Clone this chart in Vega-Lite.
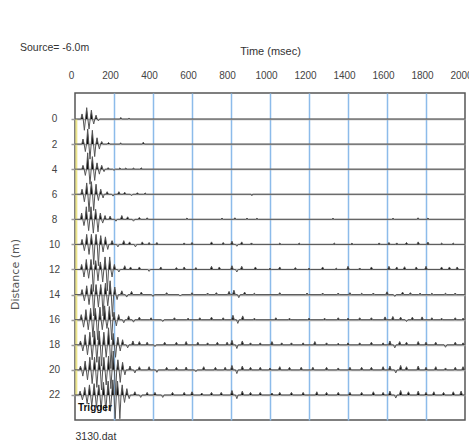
{
"$schema":"https://vega.github.io/schema/vega-lite/v6.json",
"autosize":"none",
"width":390,"height":327,
"padding":{"left":75,"top":93,"right":4,"bottom":27},
"background":"white",
"title":{"text":"Source= -6.0m","anchor":"start","frame":"group","dx":-55,"dy":12,"fontSize":10.5,"fontWeight":"normal","font":"Liberation Sans","color":"#333333"},
"datasets":{
"tr":[
{"d":0,"t":0,"y":0},{"d":0,"t":30,"y":0},{"d":0,"t":36,"y":-0.4},{"d":0,"t":42,"y":0},{"d":0,"t":48,"y":0.9},{"d":0,"t":54,"y":0},{"d":0,"t":60,"y":-0.9},{"d":0,"t":66,"y":0},{"d":0,"t":72,"y":0.8},{"d":0,"t":78,"y":0},{"d":0,"t":84,"y":-0.7},{"d":0,"t":90,"y":0},{"d":0,"t":96,"y":0.4},{"d":0,"t":102,"y":0},{"d":0,"t":108,"y":-0.3},{"d":0,"t":114,"y":0},{"d":0,"t":120,"y":0.15},{"d":0,"t":126,"y":0},{"d":0,"t":230,"y":0},{"d":0,"t":235,"y":-0.12},{"d":0,"t":240,"y":0},{"d":0,"t":273,"y":0},{"d":0,"t":277,"y":-0.08},{"d":0,"t":281,"y":0},{"d":0,"t":2000,"y":0},

{"d":2,"t":0,"y":2},{"d":2,"t":35,"y":2},{"d":2,"t":41,"y":1.6},{"d":2,"t":47,"y":2},{"d":2,"t":53,"y":2.6},{"d":2,"t":59,"y":2},{"d":2,"t":65,"y":0.8},{"d":2,"t":71,"y":2},{"d":2,"t":77,"y":3.2},{"d":2,"t":83,"y":2},{"d":2,"t":89,"y":0.9},{"d":2,"t":95,"y":2},{"d":2,"t":101,"y":3.0},{"d":2,"t":107,"y":2},{"d":2,"t":113,"y":1.5},{"d":2,"t":119,"y":2},{"d":2,"t":125,"y":2.4},{"d":2,"t":131,"y":2},{"d":2,"t":137,"y":1.8},{"d":2,"t":143,"y":2},{"d":2,"t":165,"y":2},{"d":2,"t":172,"y":1.88},{"d":2,"t":179,"y":2},{"d":2,"t":230,"y":2},{"d":2,"t":234,"y":1.9},{"d":2,"t":238,"y":2},{"d":2,"t":345,"y":2},{"d":2,"t":350,"y":1.85},{"d":2,"t":356,"y":2},{"d":2,"t":2000,"y":2},

{"d":4,"t":0,"y":4},{"d":4,"t":35,"y":4},{"d":4,"t":41,"y":3.7},{"d":4,"t":47,"y":4},{"d":4,"t":53,"y":4.5},{"d":4,"t":59,"y":4},{"d":4,"t":65,"y":2.7},{"d":4,"t":71,"y":4},{"d":4,"t":77,"y":5.2},{"d":4,"t":83,"y":4},{"d":4,"t":89,"y":3.0},{"d":4,"t":95,"y":4},{"d":4,"t":101,"y":4.9},{"d":4,"t":107,"y":4},{"d":4,"t":113,"y":3.5},{"d":4,"t":119,"y":4},{"d":4,"t":125,"y":4.4},{"d":4,"t":131,"y":4},{"d":4,"t":137,"y":3.7},{"d":4,"t":143,"y":4},{"d":4,"t":149,"y":4.2},{"d":4,"t":155,"y":4},{"d":4,"t":163,"y":4},{"d":4,"t":170,"y":3.88},{"d":4,"t":177,"y":4},{"d":4,"t":193,"y":4},{"d":4,"t":200,"y":4.1},{"d":4,"t":207,"y":4},{"d":4,"t":223,"y":4},{"d":4,"t":230,"y":3.9},{"d":4,"t":237,"y":4},{"d":4,"t":253,"y":4},{"d":4,"t":260,"y":3.92},{"d":4,"t":267,"y":4},{"d":4,"t":293,"y":4},{"d":4,"t":300,"y":3.92},{"d":4,"t":307,"y":4},{"d":4,"t":333,"y":4},{"d":4,"t":340,"y":3.9},{"d":4,"t":347,"y":4},{"d":4,"t":2000,"y":4},

{"d":6,"t":0,"y":6},{"d":6,"t":30,"y":6},{"d":6,"t":36,"y":5.6},{"d":6,"t":42,"y":6},{"d":6,"t":48,"y":6.6},{"d":6,"t":54,"y":6},{"d":6,"t":60,"y":5.1},{"d":6,"t":66,"y":6},{"d":6,"t":72,"y":7.4},{"d":6,"t":78,"y":6},{"d":6,"t":84,"y":5.0},{"d":6,"t":90,"y":6},{"d":6,"t":96,"y":7.3},{"d":6,"t":102,"y":6},{"d":6,"t":108,"y":5.2},{"d":6,"t":114,"y":6},{"d":6,"t":120,"y":6.5},{"d":6,"t":126,"y":6},{"d":6,"t":132,"y":5.6},{"d":6,"t":138,"y":6},{"d":6,"t":144,"y":6.3},{"d":6,"t":150,"y":6},{"d":6,"t":158,"y":6},{"d":6,"t":165,"y":5.8},{"d":6,"t":172,"y":6},{"d":6,"t":188,"y":6},{"d":6,"t":195,"y":6.15},{"d":6,"t":202,"y":6},{"d":6,"t":218,"y":6},{"d":6,"t":225,"y":5.8},{"d":6,"t":232,"y":6},{"d":6,"t":248,"y":6},{"d":6,"t":255,"y":5.85},{"d":6,"t":262,"y":6},{"d":6,"t":283,"y":6},{"d":6,"t":290,"y":6.12},{"d":6,"t":297,"y":6},{"d":6,"t":313,"y":6},{"d":6,"t":320,"y":5.88},{"d":6,"t":327,"y":6},{"d":6,"t":353,"y":6},{"d":6,"t":360,"y":5.9},{"d":6,"t":367,"y":6},{"d":6,"t":903,"y":6},{"d":6,"t":907,"y":6.12},{"d":6,"t":911,"y":6},{"d":6,"t":2000,"y":6},

{"d":8,"t":0,"y":8},{"d":8,"t":28,"y":8},{"d":8,"t":34,"y":7.5},{"d":8,"t":40,"y":8},{"d":8,"t":46,"y":8.5},{"d":8,"t":52,"y":8},{"d":8,"t":58,"y":7.0},{"d":8,"t":64,"y":8},{"d":8,"t":70,"y":8.9},{"d":8,"t":76,"y":8},{"d":8,"t":82,"y":7.0},{"d":8,"t":88,"y":8},{"d":8,"t":94,"y":9.1},{"d":8,"t":100,"y":8},{"d":8,"t":106,"y":7.2},{"d":8,"t":112,"y":8},{"d":8,"t":118,"y":9.0},{"d":8,"t":124,"y":8},{"d":8,"t":130,"y":7.5},{"d":8,"t":136,"y":8},{"d":8,"t":142,"y":8.3},{"d":8,"t":148,"y":8},{"d":8,"t":154,"y":7.7},{"d":8,"t":160,"y":8},{"d":8,"t":173,"y":8},{"d":8,"t":180,"y":7.75},{"d":8,"t":187,"y":8},{"d":8,"t":203,"y":8},{"d":8,"t":210,"y":8.15},{"d":8,"t":217,"y":8},{"d":8,"t":233,"y":8},{"d":8,"t":240,"y":7.7},{"d":8,"t":247,"y":8},{"d":8,"t":263,"y":8},{"d":8,"t":270,"y":7.8},{"d":8,"t":277,"y":8},{"d":8,"t":293,"y":8},{"d":8,"t":300,"y":8.15},{"d":8,"t":307,"y":8},{"d":8,"t":323,"y":8},{"d":8,"t":330,"y":7.85},{"d":8,"t":337,"y":8},{"d":8,"t":363,"y":8},{"d":8,"t":370,"y":7.88},{"d":8,"t":377,"y":8},
{"d":8,"t":567,"y":8},{"d":8,"t":574,"y":7.9},{"d":8,"t":581,"y":8},{"d":8,"t":747,"y":8},{"d":8,"t":754,"y":7.9},{"d":8,"t":761,"y":8},{"d":8,"t":813,"y":8},{"d":8,"t":820,"y":7.88},{"d":8,"t":827,"y":8},{"d":8,"t":875,"y":8},{"d":8,"t":882,"y":7.9},{"d":8,"t":889,"y":8},{"d":8,"t":926,"y":8},{"d":8,"t":933,"y":7.92},{"d":8,"t":940,"y":8},{"d":8,"t":1316,"y":8},{"d":8,"t":1323,"y":7.92},{"d":8,"t":1330,"y":8},{"d":8,"t":1624,"y":8},{"d":8,"t":1631,"y":7.92},{"d":8,"t":1638,"y":8},{"d":8,"t":1752,"y":8},{"d":8,"t":1759,"y":7.88},{"d":8,"t":1766,"y":8},{"d":8,"t":1803,"y":8},{"d":8,"t":1810,"y":7.9},{"d":8,"t":1817,"y":8},{"d":8,"t":2000,"y":8},

{"d":10,"t":0,"y":10},{"d":10,"t":30,"y":10},{"d":10,"t":36,"y":9.6},{"d":10,"t":42,"y":10},{"d":10,"t":48,"y":10.5},{"d":10,"t":54,"y":10},{"d":10,"t":60,"y":9.2},{"d":10,"t":66,"y":10},{"d":10,"t":72,"y":10.8},{"d":10,"t":78,"y":10},{"d":10,"t":84,"y":9.2},{"d":10,"t":90,"y":10},{"d":10,"t":96,"y":11.6},{"d":10,"t":102,"y":10},{"d":10,"t":108,"y":9.2},{"d":10,"t":114,"y":10},{"d":10,"t":120,"y":11.7},{"d":10,"t":126,"y":10},{"d":10,"t":132,"y":9.3},{"d":10,"t":138,"y":10},{"d":10,"t":144,"y":10.6},{"d":10,"t":150,"y":10},{"d":10,"t":156,"y":9.4},{"d":10,"t":162,"y":10},{"d":10,"t":168,"y":10.4},{"d":10,"t":174,"y":10},{"d":10,"t":183,"y":10},{"d":10,"t":190,"y":9.7},{"d":10,"t":197,"y":10},{"d":10,"t":213,"y":10},{"d":10,"t":220,"y":10.2},{"d":10,"t":227,"y":10},{"d":10,"t":243,"y":10},{"d":10,"t":250,"y":9.7},{"d":10,"t":257,"y":10},{"d":10,"t":273,"y":10},{"d":10,"t":280,"y":9.8},{"d":10,"t":287,"y":10},{"d":10,"t":303,"y":10},{"d":10,"t":310,"y":10.2},{"d":10,"t":317,"y":10},{"d":10,"t":338,"y":10},{"d":10,"t":345,"y":9.8},{"d":10,"t":352,"y":10},{"d":10,"t":373,"y":10},{"d":10,"t":380,"y":9.85},{"d":10,"t":387,"y":10},
{"d":10,"t":413,"y":10},{"d":10,"t":420,"y":9.85},{"d":10,"t":427,"y":10},{"d":10,"t":553,"y":10},{"d":10,"t":560,"y":9.88},{"d":10,"t":567,"y":10},{"d":10,"t":593,"y":10},{"d":10,"t":600,"y":9.85},{"d":10,"t":607,"y":10},{"d":10,"t":693,"y":10},{"d":10,"t":700,"y":9.8},{"d":10,"t":707,"y":10},{"d":10,"t":753,"y":10},{"d":10,"t":760,"y":9.85},{"d":10,"t":767,"y":10},{"d":10,"t":798,"y":10},{"d":10,"t":805,"y":9.75},{"d":10,"t":812,"y":10},{"d":10,"t":823,"y":10},{"d":10,"t":830,"y":10.15},{"d":10,"t":837,"y":10},{"d":10,"t":848,"y":10},{"d":10,"t":855,"y":9.8},{"d":10,"t":862,"y":10},{"d":10,"t":898,"y":10},{"d":10,"t":905,"y":9.88},{"d":10,"t":912,"y":10},{"d":10,"t":1043,"y":10},{"d":10,"t":1050,"y":9.9},{"d":10,"t":1057,"y":10},{"d":10,"t":1143,"y":10},{"d":10,"t":1150,"y":9.9},{"d":10,"t":1157,"y":10},{"d":10,"t":1323,"y":10},{"d":10,"t":1330,"y":9.9},{"d":10,"t":1337,"y":10},{"d":10,"t":1413,"y":10},{"d":10,"t":1420,"y":9.9},{"d":10,"t":1427,"y":10},{"d":10,"t":1553,"y":10},{"d":10,"t":1560,"y":9.88},{"d":10,"t":1567,"y":10},{"d":10,"t":1603,"y":10},{"d":10,"t":1610,"y":9.85},{"d":10,"t":1617,"y":10},{"d":10,"t":1643,"y":10},{"d":10,"t":1650,"y":9.88},{"d":10,"t":1657,"y":10},{"d":10,"t":1693,"y":10},{"d":10,"t":1700,"y":9.85},{"d":10,"t":1707,"y":10},{"d":10,"t":1753,"y":10},{"d":10,"t":1760,"y":9.8},{"d":10,"t":1767,"y":10},{"d":10,"t":1803,"y":10},{"d":10,"t":1810,"y":9.82},{"d":10,"t":1817,"y":10},{"d":10,"t":1873,"y":10},{"d":10,"t":1880,"y":9.9},{"d":10,"t":1887,"y":10},{"d":10,"t":1933,"y":10},{"d":10,"t":1940,"y":9.9},{"d":10,"t":1947,"y":10},{"d":10,"t":2000,"y":10},

{"d":12,"t":0,"y":12},{"d":12,"t":28,"y":12},{"d":12,"t":34,"y":11.6},{"d":12,"t":40,"y":12},{"d":12,"t":46,"y":12.6},{"d":12,"t":52,"y":12},{"d":12,"t":58,"y":11.2},{"d":12,"t":64,"y":12},{"d":12,"t":70,"y":12.7},{"d":12,"t":76,"y":12},{"d":12,"t":82,"y":11.2},{"d":12,"t":88,"y":12},{"d":12,"t":94,"y":13.75},{"d":12,"t":100,"y":12},{"d":12,"t":106,"y":11.3},{"d":12,"t":112,"y":12},{"d":12,"t":118,"y":12.9},{"d":12,"t":124,"y":12},{"d":12,"t":130,"y":11.4},{"d":12,"t":136,"y":12},{"d":12,"t":142,"y":13.0},{"d":12,"t":148,"y":12},{"d":12,"t":154,"y":11.0},{"d":12,"t":160,"y":12},{"d":12,"t":166,"y":13.7},{"d":12,"t":172,"y":12},{"d":12,"t":178,"y":11.0},{"d":12,"t":184,"y":12},{"d":12,"t":190,"y":12.6},{"d":12,"t":196,"y":12},{"d":12,"t":202,"y":11.6},{"d":12,"t":208,"y":12},{"d":12,"t":218,"y":12},{"d":12,"t":225,"y":12.2},{"d":12,"t":232,"y":12},{"d":12,"t":248,"y":12},{"d":12,"t":255,"y":11.7},{"d":12,"t":262,"y":12},{"d":12,"t":278,"y":12},{"d":12,"t":285,"y":11.8},{"d":12,"t":292,"y":12},
{"d":12,"t":323,"y":12},{"d":12,"t":330,"y":11.8},{"d":12,"t":337,"y":12},{"d":12,"t":373,"y":12},{"d":12,"t":380,"y":12.15},{"d":12,"t":387,"y":12},{"d":12,"t":433,"y":12},{"d":12,"t":440,"y":11.8},{"d":12,"t":447,"y":12},{"d":12,"t":513,"y":12},{"d":12,"t":520,"y":11.85},{"d":12,"t":527,"y":12},{"d":12,"t":553,"y":12},{"d":12,"t":560,"y":11.8},{"d":12,"t":567,"y":12},{"d":12,"t":613,"y":12},{"d":12,"t":620,"y":11.85},{"d":12,"t":627,"y":12},{"d":12,"t":693,"y":12},{"d":12,"t":700,"y":11.75},{"d":12,"t":707,"y":12},{"d":12,"t":733,"y":12},{"d":12,"t":740,"y":11.8},{"d":12,"t":747,"y":12},{"d":12,"t":798,"y":12},{"d":12,"t":805,"y":11.7},{"d":12,"t":812,"y":12},{"d":12,"t":823,"y":12},{"d":12,"t":830,"y":12.2},{"d":12,"t":837,"y":12},{"d":12,"t":848,"y":12},{"d":12,"t":855,"y":11.75},{"d":12,"t":862,"y":12},{"d":12,"t":918,"y":12},{"d":12,"t":925,"y":11.8},{"d":12,"t":932,"y":12},{"d":12,"t":993,"y":12},{"d":12,"t":1000,"y":11.9},{"d":12,"t":1007,"y":12},{"d":12,"t":1043,"y":12},{"d":12,"t":1050,"y":11.8},{"d":12,"t":1057,"y":12},{"d":12,"t":1123,"y":12},{"d":12,"t":1130,"y":11.85},{"d":12,"t":1137,"y":12},{"d":12,"t":1193,"y":12},{"d":12,"t":1200,"y":11.9},{"d":12,"t":1207,"y":12},{"d":12,"t":1263,"y":12},{"d":12,"t":1270,"y":11.8},{"d":12,"t":1277,"y":12},{"d":12,"t":1333,"y":12},{"d":12,"t":1340,"y":11.9},{"d":12,"t":1347,"y":12},{"d":12,"t":1393,"y":12},{"d":12,"t":1400,"y":11.75},{"d":12,"t":1407,"y":12},{"d":12,"t":1453,"y":12},{"d":12,"t":1460,"y":11.88},{"d":12,"t":1467,"y":12},{"d":12,"t":1513,"y":12},{"d":12,"t":1520,"y":11.8},{"d":12,"t":1527,"y":12},{"d":12,"t":1603,"y":12},{"d":12,"t":1610,"y":11.75},{"d":12,"t":1617,"y":12},{"d":12,"t":1643,"y":12},{"d":12,"t":1650,"y":11.8},{"d":12,"t":1657,"y":12},{"d":12,"t":1683,"y":12},{"d":12,"t":1690,"y":11.78},{"d":12,"t":1697,"y":12},{"d":12,"t":1743,"y":12},{"d":12,"t":1750,"y":11.8},{"d":12,"t":1757,"y":12},{"d":12,"t":1793,"y":12},{"d":12,"t":1800,"y":11.75},{"d":12,"t":1807,"y":12},{"d":12,"t":1873,"y":12},{"d":12,"t":1880,"y":11.8},{"d":12,"t":1887,"y":12},{"d":12,"t":1913,"y":12},{"d":12,"t":1920,"y":11.8},{"d":12,"t":1927,"y":12},{"d":12,"t":1953,"y":12},{"d":12,"t":1960,"y":11.8},{"d":12,"t":1967,"y":12},{"d":12,"t":2000,"y":12},

{"d":14,"t":0,"y":14},{"d":14,"t":30,"y":14},{"d":14,"t":36,"y":13.6},{"d":14,"t":42,"y":14},{"d":14,"t":48,"y":14.5},{"d":14,"t":54,"y":14},{"d":14,"t":60,"y":13.3},{"d":14,"t":66,"y":14},{"d":14,"t":72,"y":14.8},{"d":14,"t":78,"y":14},{"d":14,"t":84,"y":13.2},{"d":14,"t":90,"y":14},{"d":14,"t":96,"y":15.7},{"d":14,"t":102,"y":14},{"d":14,"t":108,"y":13.2},{"d":14,"t":114,"y":14},{"d":14,"t":120,"y":15.0},{"d":14,"t":126,"y":14},{"d":14,"t":132,"y":13.2},{"d":14,"t":138,"y":14},{"d":14,"t":144,"y":15.7},{"d":14,"t":150,"y":14},{"d":14,"t":156,"y":13.1},{"d":14,"t":162,"y":14},{"d":14,"t":168,"y":14.9},{"d":14,"t":174,"y":14},{"d":14,"t":180,"y":12.9},{"d":14,"t":186,"y":14},{"d":14,"t":192,"y":15.75},{"d":14,"t":198,"y":14},{"d":14,"t":204,"y":13.4},{"d":14,"t":210,"y":14},{"d":14,"t":216,"y":14.4},{"d":14,"t":222,"y":14},{"d":14,"t":233,"y":14},{"d":14,"t":240,"y":13.7},{"d":14,"t":247,"y":14},{"d":14,"t":258,"y":14},{"d":14,"t":265,"y":14.2},{"d":14,"t":272,"y":14},{"d":14,"t":283,"y":14},{"d":14,"t":290,"y":13.75},{"d":14,"t":297,"y":14},
{"d":14,"t":333,"y":14},{"d":14,"t":340,"y":13.8},{"d":14,"t":347,"y":14},{"d":14,"t":393,"y":14},{"d":14,"t":400,"y":14.15},{"d":14,"t":407,"y":14},{"d":14,"t":463,"y":14},{"d":14,"t":470,"y":13.85},{"d":14,"t":477,"y":14},{"d":14,"t":533,"y":14},{"d":14,"t":540,"y":14.12},{"d":14,"t":547,"y":14},{"d":14,"t":593,"y":14},{"d":14,"t":600,"y":13.85},{"d":14,"t":607,"y":14},{"d":14,"t":673,"y":14},{"d":14,"t":680,"y":13.88},{"d":14,"t":687,"y":14},{"d":14,"t":718,"y":14},{"d":14,"t":725,"y":13.85},{"d":14,"t":732,"y":14},{"d":14,"t":783,"y":14},{"d":14,"t":790,"y":13.75},{"d":14,"t":797,"y":14},{"d":14,"t":808,"y":14},{"d":14,"t":815,"y":13.65},{"d":14,"t":822,"y":14},{"d":14,"t":833,"y":14},{"d":14,"t":840,"y":14.25},{"d":14,"t":847,"y":14},{"d":14,"t":863,"y":14},{"d":14,"t":870,"y":13.8},{"d":14,"t":877,"y":14},{"d":14,"t":913,"y":14},{"d":14,"t":920,"y":13.9},{"d":14,"t":927,"y":14},{"d":14,"t":1043,"y":14},{"d":14,"t":1050,"y":13.85},{"d":14,"t":1057,"y":14},{"d":14,"t":1183,"y":14},{"d":14,"t":1190,"y":13.88},{"d":14,"t":1197,"y":14},{"d":14,"t":1263,"y":14},{"d":14,"t":1270,"y":13.88},{"d":14,"t":1277,"y":14},{"d":14,"t":1343,"y":14},{"d":14,"t":1350,"y":13.88},{"d":14,"t":1357,"y":14},{"d":14,"t":1403,"y":14},{"d":14,"t":1410,"y":13.85},{"d":14,"t":1417,"y":14},{"d":14,"t":1463,"y":14},{"d":14,"t":1470,"y":13.9},{"d":14,"t":1477,"y":14},{"d":14,"t":1523,"y":14},{"d":14,"t":1530,"y":13.88},{"d":14,"t":1537,"y":14},{"d":14,"t":1593,"y":14},{"d":14,"t":1600,"y":13.78},{"d":14,"t":1607,"y":14},{"d":14,"t":1633,"y":14},{"d":14,"t":1640,"y":14.15},{"d":14,"t":1647,"y":14},{"d":14,"t":1673,"y":14},{"d":14,"t":1680,"y":13.8},{"d":14,"t":1687,"y":14},{"d":14,"t":1713,"y":14},{"d":14,"t":1720,"y":13.85},{"d":14,"t":1727,"y":14},{"d":14,"t":1763,"y":14},{"d":14,"t":1770,"y":13.88},{"d":14,"t":1777,"y":14},{"d":14,"t":1823,"y":14},{"d":14,"t":1830,"y":13.9},{"d":14,"t":1837,"y":14},{"d":14,"t":1893,"y":14},{"d":14,"t":1900,"y":13.9},{"d":14,"t":1907,"y":14},{"d":14,"t":1943,"y":14},{"d":14,"t":1950,"y":13.88},{"d":14,"t":1957,"y":14},{"d":14,"t":2000,"y":14},

{"d":16,"t":0,"y":16},{"d":16,"t":26,"y":16},{"d":16,"t":32,"y":15.6},{"d":16,"t":38,"y":16},{"d":16,"t":44,"y":16.6},{"d":16,"t":50,"y":16},{"d":16,"t":56,"y":15.2},{"d":16,"t":62,"y":16},{"d":16,"t":68,"y":16.8},{"d":16,"t":74,"y":16},{"d":16,"t":80,"y":15.1},{"d":16,"t":86,"y":16},{"d":16,"t":92,"y":17.4},{"d":16,"t":98,"y":16},{"d":16,"t":104,"y":15.1},{"d":16,"t":110,"y":16},{"d":16,"t":116,"y":17.6},{"d":16,"t":122,"y":16},{"d":16,"t":128,"y":15.0},{"d":16,"t":134,"y":16},{"d":16,"t":140,"y":16.8},{"d":16,"t":146,"y":16},{"d":16,"t":152,"y":14.9},{"d":16,"t":158,"y":16},{"d":16,"t":164,"y":16.7},{"d":16,"t":170,"y":16},{"d":16,"t":176,"y":14.95},{"d":16,"t":182,"y":16},{"d":16,"t":188,"y":17.6},{"d":16,"t":194,"y":16},{"d":16,"t":200,"y":15.4},{"d":16,"t":206,"y":16},{"d":16,"t":212,"y":16.5},{"d":16,"t":218,"y":16},{"d":16,"t":224,"y":15.6},{"d":16,"t":230,"y":16},{"d":16,"t":243,"y":16},{"d":16,"t":250,"y":16.25},{"d":16,"t":257,"y":16},{"d":16,"t":268,"y":16},{"d":16,"t":275,"y":15.7},{"d":16,"t":282,"y":16},{"d":16,"t":293,"y":16},{"d":16,"t":300,"y":16.2},{"d":16,"t":307,"y":16},
{"d":16,"t":323,"y":16},{"d":16,"t":330,"y":15.8},{"d":16,"t":337,"y":16},{"d":16,"t":383,"y":16},{"d":16,"t":390,"y":15.85},{"d":16,"t":397,"y":16},{"d":16,"t":443,"y":16},{"d":16,"t":450,"y":16.15},{"d":16,"t":457,"y":16},{"d":16,"t":503,"y":16},{"d":16,"t":510,"y":15.85},{"d":16,"t":517,"y":16},{"d":16,"t":573,"y":16},{"d":16,"t":580,"y":15.88},{"d":16,"t":587,"y":16},{"d":16,"t":633,"y":16},{"d":16,"t":640,"y":15.85},{"d":16,"t":647,"y":16},{"d":16,"t":693,"y":16},{"d":16,"t":700,"y":15.8},{"d":16,"t":707,"y":16},{"d":16,"t":753,"y":16},{"d":16,"t":760,"y":15.85},{"d":16,"t":767,"y":16},{"d":16,"t":803,"y":16},{"d":16,"t":810,"y":15.65},{"d":16,"t":817,"y":16},{"d":16,"t":828,"y":16},{"d":16,"t":835,"y":16.3},{"d":16,"t":842,"y":16},{"d":16,"t":853,"y":16},{"d":16,"t":860,"y":15.7},{"d":16,"t":867,"y":16},{"d":16,"t":913,"y":16},{"d":16,"t":920,"y":15.88},{"d":16,"t":927,"y":16},{"d":16,"t":1023,"y":16},{"d":16,"t":1030,"y":15.85},{"d":16,"t":1037,"y":16},{"d":16,"t":1093,"y":16},{"d":16,"t":1100,"y":15.88},{"d":16,"t":1107,"y":16},{"d":16,"t":1193,"y":16},{"d":16,"t":1200,"y":15.88},{"d":16,"t":1207,"y":16},{"d":16,"t":1273,"y":16},{"d":16,"t":1280,"y":15.88},{"d":16,"t":1287,"y":16},{"d":16,"t":1343,"y":16},{"d":16,"t":1350,"y":15.85},{"d":16,"t":1357,"y":16},{"d":16,"t":1393,"y":16},{"d":16,"t":1400,"y":15.88},{"d":16,"t":1407,"y":16},{"d":16,"t":1453,"y":16},{"d":16,"t":1460,"y":15.85},{"d":16,"t":1467,"y":16},{"d":16,"t":1513,"y":16},{"d":16,"t":1520,"y":15.85},{"d":16,"t":1527,"y":16},{"d":16,"t":1583,"y":16},{"d":16,"t":1590,"y":15.78},{"d":16,"t":1597,"y":16},{"d":16,"t":1623,"y":16},{"d":16,"t":1630,"y":15.75},{"d":16,"t":1637,"y":16},{"d":16,"t":1663,"y":16},{"d":16,"t":1670,"y":15.8},{"d":16,"t":1677,"y":16},{"d":16,"t":1693,"y":16},{"d":16,"t":1700,"y":16.15},{"d":16,"t":1707,"y":16},{"d":16,"t":1723,"y":16},{"d":16,"t":1730,"y":15.8},{"d":16,"t":1737,"y":16},{"d":16,"t":1773,"y":16},{"d":16,"t":1780,"y":15.78},{"d":16,"t":1787,"y":16},{"d":16,"t":1823,"y":16},{"d":16,"t":1830,"y":15.85},{"d":16,"t":1837,"y":16},{"d":16,"t":1873,"y":16},{"d":16,"t":1880,"y":15.88},{"d":16,"t":1887,"y":16},{"d":16,"t":1943,"y":16},{"d":16,"t":1950,"y":15.85},{"d":16,"t":1957,"y":16},{"d":16,"t":1983,"y":16},{"d":16,"t":1990,"y":15.88},{"d":16,"t":1997,"y":16},{"d":16,"t":2000,"y":16},

{"d":18,"t":0,"y":18},{"d":18,"t":22,"y":18},{"d":18,"t":28,"y":17.7},{"d":18,"t":34,"y":18},{"d":18,"t":40,"y":18.5},{"d":18,"t":46,"y":18},{"d":18,"t":52,"y":17.2},{"d":18,"t":58,"y":18},{"d":18,"t":64,"y":18.8},{"d":18,"t":70,"y":18},{"d":18,"t":76,"y":17.0},{"d":18,"t":82,"y":18},{"d":18,"t":88,"y":19.2},{"d":18,"t":94,"y":18},{"d":18,"t":100,"y":16.9},{"d":18,"t":106,"y":18},{"d":18,"t":112,"y":19.4},{"d":18,"t":118,"y":18},{"d":18,"t":124,"y":16.9},{"d":18,"t":130,"y":18},{"d":18,"t":136,"y":19.7},{"d":18,"t":142,"y":18},{"d":18,"t":148,"y":17.0},{"d":18,"t":154,"y":18},{"d":18,"t":160,"y":19.0},{"d":18,"t":166,"y":18},{"d":18,"t":172,"y":16.65},{"d":18,"t":178,"y":18},{"d":18,"t":184,"y":19.9},{"d":18,"t":190,"y":18},{"d":18,"t":196,"y":17.1},{"d":18,"t":202,"y":18},{"d":18,"t":208,"y":19.0},{"d":18,"t":214,"y":18},{"d":18,"t":220,"y":17.4},{"d":18,"t":226,"y":18},{"d":18,"t":232,"y":18.5},{"d":18,"t":238,"y":18},{"d":18,"t":244,"y":17.6},{"d":18,"t":250,"y":18},{"d":18,"t":263,"y":18},{"d":18,"t":270,"y":18.25},{"d":18,"t":277,"y":18},{"d":18,"t":290,"y":18},{"d":18,"t":297,"y":17.7},{"d":18,"t":304,"y":18},
{"d":18,"t":323,"y":18},{"d":18,"t":330,"y":17.75},{"d":18,"t":337,"y":18},{"d":18,"t":363,"y":18},{"d":18,"t":370,"y":17.8},{"d":18,"t":377,"y":18},{"d":18,"t":403,"y":18},{"d":18,"t":410,"y":18.15},{"d":18,"t":417,"y":18},{"d":18,"t":453,"y":18},{"d":18,"t":460,"y":17.8},{"d":18,"t":467,"y":18},{"d":18,"t":513,"y":18},{"d":18,"t":520,"y":17.8},{"d":18,"t":527,"y":18},{"d":18,"t":563,"y":18},{"d":18,"t":570,"y":17.75},{"d":18,"t":577,"y":18},{"d":18,"t":623,"y":18},{"d":18,"t":630,"y":17.8},{"d":18,"t":637,"y":18},{"d":18,"t":673,"y":18},{"d":18,"t":680,"y":17.85},{"d":18,"t":687,"y":18},{"d":18,"t":723,"y":18},{"d":18,"t":730,"y":17.8},{"d":18,"t":737,"y":18},{"d":18,"t":773,"y":18},{"d":18,"t":780,"y":17.8},{"d":18,"t":787,"y":18},{"d":18,"t":798,"y":18},{"d":18,"t":805,"y":17.65},{"d":18,"t":812,"y":18},{"d":18,"t":823,"y":18},{"d":18,"t":830,"y":18.3},{"d":18,"t":837,"y":18},{"d":18,"t":851,"y":18},{"d":18,"t":858,"y":17.7},{"d":18,"t":865,"y":18},{"d":18,"t":893,"y":18},{"d":18,"t":900,"y":17.85},{"d":18,"t":907,"y":18},{"d":18,"t":943,"y":18},{"d":18,"t":950,"y":17.85},{"d":18,"t":957,"y":18},{"d":18,"t":1003,"y":18},{"d":18,"t":1010,"y":17.75},{"d":18,"t":1017,"y":18},{"d":18,"t":1053,"y":18},{"d":18,"t":1060,"y":17.85},{"d":18,"t":1067,"y":18},{"d":18,"t":1103,"y":18},{"d":18,"t":1110,"y":17.85},{"d":18,"t":1117,"y":18},{"d":18,"t":1163,"y":18},{"d":18,"t":1170,"y":17.85},{"d":18,"t":1177,"y":18},{"d":18,"t":1223,"y":18},{"d":18,"t":1230,"y":17.75},{"d":18,"t":1237,"y":18},{"d":18,"t":1283,"y":18},{"d":18,"t":1290,"y":17.85},{"d":18,"t":1297,"y":18},{"d":18,"t":1343,"y":18},{"d":18,"t":1350,"y":17.88},{"d":18,"t":1357,"y":18},{"d":18,"t":1393,"y":18},{"d":18,"t":1400,"y":17.85},{"d":18,"t":1407,"y":18},{"d":18,"t":1453,"y":18},{"d":18,"t":1460,"y":17.85},{"d":18,"t":1467,"y":18},{"d":18,"t":1513,"y":18},{"d":18,"t":1520,"y":17.8},{"d":18,"t":1527,"y":18},{"d":18,"t":1573,"y":18},{"d":18,"t":1580,"y":17.85},{"d":18,"t":1587,"y":18},{"d":18,"t":1608,"y":18},{"d":18,"t":1615,"y":17.7},{"d":18,"t":1622,"y":18},{"d":18,"t":1633,"y":18},{"d":18,"t":1640,"y":18.25},{"d":18,"t":1647,"y":18},{"d":18,"t":1658,"y":18},{"d":18,"t":1665,"y":17.75},{"d":18,"t":1672,"y":18},{"d":18,"t":1693,"y":18},{"d":18,"t":1700,"y":17.8},{"d":18,"t":1707,"y":18},{"d":18,"t":1753,"y":18},{"d":18,"t":1760,"y":17.75},{"d":18,"t":1767,"y":18},{"d":18,"t":1793,"y":18},{"d":18,"t":1800,"y":17.8},{"d":18,"t":1807,"y":18},{"d":18,"t":1843,"y":18},{"d":18,"t":1850,"y":17.8},{"d":18,"t":1857,"y":18},{"d":18,"t":1893,"y":18},{"d":18,"t":1900,"y":18.2},{"d":18,"t":1907,"y":18},{"d":18,"t":1943,"y":18},{"d":18,"t":1950,"y":17.8},{"d":18,"t":1957,"y":18},{"d":18,"t":1983,"y":18},{"d":18,"t":1990,"y":17.85},{"d":18,"t":1997,"y":18},{"d":18,"t":2000,"y":18},

{"d":20,"t":0,"y":20},{"d":20,"t":22,"y":20},{"d":20,"t":28,"y":19.7},{"d":20,"t":34,"y":20},{"d":20,"t":40,"y":20.5},{"d":20,"t":46,"y":20},{"d":20,"t":52,"y":19.3},{"d":20,"t":58,"y":20},{"d":20,"t":64,"y":20.8},{"d":20,"t":70,"y":20},{"d":20,"t":76,"y":19.0},{"d":20,"t":82,"y":20},{"d":20,"t":88,"y":21.1},{"d":20,"t":94,"y":20},{"d":20,"t":100,"y":19.0},{"d":20,"t":106,"y":20},{"d":20,"t":112,"y":21.4},{"d":20,"t":118,"y":20},{"d":20,"t":124,"y":18.95},{"d":20,"t":130,"y":20},{"d":20,"t":136,"y":21.6},{"d":20,"t":142,"y":20},{"d":20,"t":148,"y":19.0},{"d":20,"t":154,"y":20},{"d":20,"t":160,"y":21.2},{"d":20,"t":166,"y":20},{"d":20,"t":172,"y":18.9},{"d":20,"t":178,"y":20},{"d":20,"t":184,"y":21.5},{"d":20,"t":190,"y":20},{"d":20,"t":196,"y":18.5},{"d":20,"t":202,"y":20},{"d":20,"t":208,"y":22.0},{"d":20,"t":214,"y":20},{"d":20,"t":220,"y":19.2},{"d":20,"t":226,"y":20},{"d":20,"t":232,"y":21.0},{"d":20,"t":238,"y":20},{"d":20,"t":244,"y":19.4},{"d":20,"t":250,"y":20},{"d":20,"t":256,"y":20.4},{"d":20,"t":262,"y":20},{"d":20,"t":275,"y":20},{"d":20,"t":282,"y":19.7},{"d":20,"t":289,"y":20},{"d":20,"t":300,"y":20},{"d":20,"t":307,"y":20.25},{"d":20,"t":314,"y":20},
{"d":20,"t":323,"y":20},{"d":20,"t":330,"y":19.75},{"d":20,"t":337,"y":20},{"d":20,"t":373,"y":20},{"d":20,"t":380,"y":19.75},{"d":20,"t":387,"y":20},{"d":20,"t":413,"y":20},{"d":20,"t":420,"y":20.2},{"d":20,"t":427,"y":20},{"d":20,"t":463,"y":20},{"d":20,"t":470,"y":19.8},{"d":20,"t":477,"y":20},{"d":20,"t":513,"y":20},{"d":20,"t":520,"y":19.8},{"d":20,"t":527,"y":20},{"d":20,"t":563,"y":20},{"d":20,"t":570,"y":19.78},{"d":20,"t":577,"y":20},{"d":20,"t":613,"y":20},{"d":20,"t":620,"y":20.15},{"d":20,"t":627,"y":20},{"d":20,"t":653,"y":20},{"d":20,"t":660,"y":19.75},{"d":20,"t":667,"y":20},{"d":20,"t":713,"y":20},{"d":20,"t":720,"y":19.8},{"d":20,"t":727,"y":20},{"d":20,"t":763,"y":20},{"d":20,"t":770,"y":19.8},{"d":20,"t":777,"y":20},{"d":20,"t":798,"y":20},{"d":20,"t":805,"y":19.65},{"d":20,"t":812,"y":20},{"d":20,"t":823,"y":20},{"d":20,"t":830,"y":20.3},{"d":20,"t":837,"y":20},{"d":20,"t":851,"y":20},{"d":20,"t":858,"y":19.7},{"d":20,"t":865,"y":20},{"d":20,"t":893,"y":20},{"d":20,"t":900,"y":19.8},{"d":20,"t":907,"y":20},{"d":20,"t":943,"y":20},{"d":20,"t":950,"y":19.8},{"d":20,"t":957,"y":20},{"d":20,"t":993,"y":20},{"d":20,"t":1000,"y":19.85},{"d":20,"t":1007,"y":20},{"d":20,"t":1043,"y":20},{"d":20,"t":1050,"y":19.75},{"d":20,"t":1057,"y":20},{"d":20,"t":1093,"y":20},{"d":20,"t":1100,"y":19.8},{"d":20,"t":1107,"y":20},{"d":20,"t":1153,"y":20},{"d":20,"t":1160,"y":19.8},{"d":20,"t":1167,"y":20},{"d":20,"t":1213,"y":20},{"d":20,"t":1220,"y":19.8},{"d":20,"t":1227,"y":20},{"d":20,"t":1283,"y":20},{"d":20,"t":1290,"y":19.8},{"d":20,"t":1297,"y":20},{"d":20,"t":1343,"y":20},{"d":20,"t":1350,"y":19.85},{"d":20,"t":1357,"y":20},{"d":20,"t":1403,"y":20},{"d":20,"t":1410,"y":19.8},{"d":20,"t":1417,"y":20},{"d":20,"t":1463,"y":20},{"d":20,"t":1470,"y":19.8},{"d":20,"t":1477,"y":20},{"d":20,"t":1513,"y":20},{"d":20,"t":1520,"y":19.8},{"d":20,"t":1527,"y":20},{"d":20,"t":1573,"y":20},{"d":20,"t":1580,"y":19.75},{"d":20,"t":1587,"y":20},{"d":20,"t":1608,"y":20},{"d":20,"t":1615,"y":19.7},{"d":20,"t":1622,"y":20},{"d":20,"t":1638,"y":20},{"d":20,"t":1645,"y":20.25},{"d":20,"t":1652,"y":20},{"d":20,"t":1663,"y":20},{"d":20,"t":1670,"y":19.65},{"d":20,"t":1677,"y":20},{"d":20,"t":1693,"y":20},{"d":20,"t":1700,"y":19.75},{"d":20,"t":1707,"y":20},{"d":20,"t":1753,"y":20},{"d":20,"t":1760,"y":19.7},{"d":20,"t":1767,"y":20},{"d":20,"t":1793,"y":20},{"d":20,"t":1800,"y":19.8},{"d":20,"t":1807,"y":20},{"d":20,"t":1843,"y":20},{"d":20,"t":1850,"y":19.75},{"d":20,"t":1857,"y":20},{"d":20,"t":1893,"y":20},{"d":20,"t":1900,"y":19.85},{"d":20,"t":1907,"y":20},{"d":20,"t":1943,"y":20},{"d":20,"t":1950,"y":19.8},{"d":20,"t":1957,"y":20},{"d":20,"t":1983,"y":20},{"d":20,"t":1990,"y":19.75},{"d":20,"t":1997,"y":20},{"d":20,"t":2000,"y":20},

{"d":22,"t":0,"y":22},{"d":22,"t":20,"y":22},{"d":22,"t":26,"y":21.7},{"d":22,"t":32,"y":22},{"d":22,"t":38,"y":22.4},{"d":22,"t":44,"y":22},{"d":22,"t":50,"y":21.4},{"d":22,"t":56,"y":22},{"d":22,"t":62,"y":22.7},{"d":22,"t":68,"y":22},{"d":22,"t":74,"y":21.2},{"d":22,"t":80,"y":22},{"d":22,"t":86,"y":22.9},{"d":22,"t":92,"y":22},{"d":22,"t":98,"y":21.1},{"d":22,"t":104,"y":22},{"d":22,"t":110,"y":23.0},{"d":22,"t":116,"y":22},{"d":22,"t":122,"y":21.2},{"d":22,"t":128,"y":22},{"d":22,"t":134,"y":23.2},{"d":22,"t":140,"y":22},{"d":22,"t":146,"y":21.0},{"d":22,"t":152,"y":22},{"d":22,"t":158,"y":23.3},{"d":22,"t":164,"y":22},{"d":22,"t":170,"y":20.9},{"d":22,"t":176,"y":22},{"d":22,"t":182,"y":23.3},{"d":22,"t":188,"y":22},{"d":22,"t":194,"y":20.8},{"d":22,"t":200,"y":22},{"d":22,"t":206,"y":23.9},{"d":22,"t":212,"y":22},{"d":22,"t":218,"y":20.9},{"d":22,"t":224,"y":22},{"d":22,"t":230,"y":23.9},{"d":22,"t":236,"y":22},{"d":22,"t":242,"y":21.2},{"d":22,"t":248,"y":22},{"d":22,"t":254,"y":22.6},{"d":22,"t":260,"y":22},{"d":22,"t":266,"y":21.5},{"d":22,"t":272,"y":22},{"d":22,"t":278,"y":22.3},{"d":22,"t":284,"y":22},{"d":22,"t":300,"y":22},{"d":22,"t":307,"y":21.75},{"d":22,"t":314,"y":22},{"d":22,"t":330,"y":22},{"d":22,"t":337,"y":22.2},{"d":22,"t":344,"y":22},
{"d":22,"t":363,"y":22},{"d":22,"t":370,"y":21.8},{"d":22,"t":377,"y":22},{"d":22,"t":403,"y":22},{"d":22,"t":410,"y":21.8},{"d":22,"t":417,"y":22},{"d":22,"t":443,"y":22},{"d":22,"t":450,"y":22.2},{"d":22,"t":457,"y":22},{"d":22,"t":493,"y":22},{"d":22,"t":500,"y":21.8},{"d":22,"t":507,"y":22},{"d":22,"t":553,"y":22},{"d":22,"t":560,"y":21.8},{"d":22,"t":567,"y":22},{"d":22,"t":593,"y":22},{"d":22,"t":600,"y":21.75},{"d":22,"t":607,"y":22},{"d":22,"t":643,"y":22},{"d":22,"t":650,"y":21.85},{"d":22,"t":657,"y":22},{"d":22,"t":693,"y":22},{"d":22,"t":700,"y":21.8},{"d":22,"t":707,"y":22},{"d":22,"t":743,"y":22},{"d":22,"t":750,"y":21.8},{"d":22,"t":757,"y":22},{"d":22,"t":798,"y":22},{"d":22,"t":805,"y":21.65},{"d":22,"t":812,"y":22},{"d":22,"t":823,"y":22},{"d":22,"t":830,"y":22.3},{"d":22,"t":837,"y":22},{"d":22,"t":851,"y":22},{"d":22,"t":858,"y":21.7},{"d":22,"t":865,"y":22},{"d":22,"t":893,"y":22},{"d":22,"t":900,"y":21.8},{"d":22,"t":907,"y":22},{"d":22,"t":943,"y":22},{"d":22,"t":950,"y":21.8},{"d":22,"t":957,"y":22},{"d":22,"t":1003,"y":22},{"d":22,"t":1010,"y":21.85},{"d":22,"t":1017,"y":22},{"d":22,"t":1043,"y":22},{"d":22,"t":1050,"y":21.8},{"d":22,"t":1057,"y":22},{"d":22,"t":1103,"y":22},{"d":22,"t":1110,"y":21.8},{"d":22,"t":1117,"y":22},{"d":22,"t":1163,"y":22},{"d":22,"t":1170,"y":21.8},{"d":22,"t":1177,"y":22},{"d":22,"t":1233,"y":22},{"d":22,"t":1240,"y":21.75},{"d":22,"t":1247,"y":22},{"d":22,"t":1283,"y":22},{"d":22,"t":1290,"y":21.8},{"d":22,"t":1297,"y":22},{"d":22,"t":1343,"y":22},{"d":22,"t":1350,"y":21.8},{"d":22,"t":1357,"y":22},{"d":22,"t":1403,"y":22},{"d":22,"t":1410,"y":21.8},{"d":22,"t":1417,"y":22},{"d":22,"t":1463,"y":22},{"d":22,"t":1470,"y":21.8},{"d":22,"t":1477,"y":22},{"d":22,"t":1523,"y":22},{"d":22,"t":1530,"y":21.75},{"d":22,"t":1537,"y":22},{"d":22,"t":1573,"y":22},{"d":22,"t":1580,"y":21.8},{"d":22,"t":1587,"y":22},{"d":22,"t":1608,"y":22},{"d":22,"t":1615,"y":21.7},{"d":22,"t":1622,"y":22},{"d":22,"t":1638,"y":22},{"d":22,"t":1645,"y":22.25},{"d":22,"t":1652,"y":22},{"d":22,"t":1663,"y":22},{"d":22,"t":1670,"y":21.65},{"d":22,"t":1677,"y":22},{"d":22,"t":1703,"y":22},{"d":22,"t":1710,"y":21.75},{"d":22,"t":1717,"y":22},{"d":22,"t":1753,"y":22},{"d":22,"t":1760,"y":21.7},{"d":22,"t":1767,"y":22},{"d":22,"t":1793,"y":22},{"d":22,"t":1800,"y":21.8},{"d":22,"t":1807,"y":22},{"d":22,"t":1833,"y":22},{"d":22,"t":1840,"y":21.75},{"d":22,"t":1847,"y":22},{"d":22,"t":1883,"y":22},{"d":22,"t":1890,"y":21.8},{"d":22,"t":1897,"y":22},{"d":22,"t":1933,"y":22},{"d":22,"t":1940,"y":21.75},{"d":22,"t":1947,"y":22},{"d":22,"t":1973,"y":22},{"d":22,"t":1980,"y":21.7},{"d":22,"t":1987,"y":22},{"d":22,"t":2000,"y":22}
]
},
"resolve":{"axis":{"x":"independent"}},
"layer":[
{
"data":{"values":[{"t":7,"d":0,"d2":22}]},
"mark":{"type":"rule","color":"#ece58c","strokeWidth":2},
"encoding":{
"x":{"field":"t","type":"quantitative","scale":{"domain":[0,2000],"nice":false,"zero":false},
"axis":{"orient":"bottom","values":[200,400,600,800,1000,1200,1400,1600,1800],"grid":true,"gridColor":"#8cbbea","gridWidth":1.5,"gridOpacity":1,"labels":false,"ticks":false,"domain":false,"title":"3130.dat","titleAnchor":"start","titleAlign":"left","titleX":0,"titleY":16,"titleBaseline":"middle","titleFont":"Liberation Sans","titleFontSize":10.5,"titleFontWeight":"normal","titleColor":"#333333"}},
"y":{"field":"d","type":"quantitative","scale":{"domain":[-2.07,24],"reverse":true,"nice":false,"zero":false},
"axis":{"title":"Distance (m)","values":[0,2,4,6,8,10,12,14,16,18,20,22],"grid":true,"gridColor":"#aaaaaa","gridWidth":1.5,"gridOpacity":1,"domain":false,"ticks":true,"tickSize":4,"tickColor":"#999999","tickWidth":1.5,"labelAlign":"center","labelBaseline":"middle","labelPadding":17,"labelFont":"Liberation Sans","labelFontSize":10,"labelColor":"#444444","titleFont":"DejaVu Sans","titleFontSize":11,"titleFontWeight":"normal","titleColor":"#555555","titleX":-55,"titleY":181,"titleAlign":"center","titleBaseline":"bottom","titleAngle":-90}},
"y2":{"field":"d2"}
}
},
{
"data":{"name":"tr"},
"transform":[{"filter":"datum.y <= datum.d"}],
"mark":{"type":"area","color":"#000000","opacity":1},
"encoding":{
"x":{"field":"t","type":"quantitative","scale":{"domain":[0,2000],"nice":false,"zero":false},"axis":null},
"y":{"field":"y","type":"quantitative","scale":{"domain":[-2.07,24],"reverse":true,"nice":false,"zero":false},
"axis":{"title":"Distance (m)","values":[0,2,4,6,8,10,12,14,16,18,20,22],"grid":true,"gridColor":"#aaaaaa","gridWidth":1.5,"gridOpacity":1,"domain":false,"ticks":true,"tickSize":4,"tickColor":"#999999","tickWidth":1.5,"labelAlign":"center","labelBaseline":"middle","labelPadding":17,"labelFont":"Liberation Sans","labelFontSize":10,"labelColor":"#444444","titleFont":"DejaVu Sans","titleFontSize":11,"titleFontWeight":"normal","titleColor":"#555555","titleX":-55,"titleY":181,"titleAlign":"center","titleBaseline":"bottom","titleAngle":-90}},
"y2":{"field":"d"},
"detail":{"field":"d","type":"nominal"}
}
},
{
"data":{"name":"tr"},
"mark":{"type":"line","color":"#555555","strokeWidth":1},
"encoding":{
"x":{"field":"t","type":"quantitative","scale":{"domain":[0,2000],"nice":false,"zero":false},
"axis":{"orient":"top","title":"Time (msec)","values":[0,200,400,600,800,1000,1200,1400,1600,1800,2000],"format":"d","grid":false,"domain":false,"ticks":false,"tickSize":0,"labelPadding":13,"labelOffset":-4,"labelFlush":false,"labelOverlap":false,"labelFont":"Liberation Sans","labelFontSize":10,"labelColor":"#444444","titleFont":"Liberation Sans","titleFontSize":11,"titleFontWeight":"normal","titleColor":"#333333","titlePadding":14}},
"y":{"field":"y","type":"quantitative","scale":{"domain":[-2.07,24],"reverse":true,"nice":false,"zero":false},
"axis":{"title":"Distance (m)","values":[0,2,4,6,8,10,12,14,16,18,20,22],"grid":true,"gridColor":"#aaaaaa","gridWidth":1.5,"gridOpacity":1,"domain":false,"ticks":true,"tickSize":4,"tickColor":"#999999","tickWidth":1.5,"labelAlign":"center","labelBaseline":"middle","labelPadding":17,"labelFont":"Liberation Sans","labelFontSize":10,"labelColor":"#444444","titleFont":"DejaVu Sans","titleFontSize":11,"titleFontWeight":"normal","titleColor":"#555555","titleX":-55,"titleY":181,"titleAlign":"center","titleBaseline":"bottom","titleAngle":-90}},
"detail":{"field":"d","type":"nominal"}
}
},
{
"data":{"values":[{"t":15,"d":23.05,"label":"Trigger"}]},
"mark":{"type":"text","align":"left","baseline":"middle","fontWeight":"bold","fontSize":10,"font":"Liberation Sans","color":"#111111"},
"encoding":{
"x":{"field":"t","type":"quantitative","scale":{"domain":[0,2000],"nice":false,"zero":false},"axis":null},
"y":{"field":"d","type":"quantitative","scale":{"domain":[-2.07,24],"reverse":true,"nice":false,"zero":false},
"axis":{"title":"Distance (m)","values":[0,2,4,6,8,10,12,14,16,18,20,22],"grid":true,"gridColor":"#aaaaaa","gridWidth":1.5,"gridOpacity":1,"domain":false,"ticks":true,"tickSize":4,"tickColor":"#999999","tickWidth":1.5,"labelAlign":"center","labelBaseline":"middle","labelPadding":17,"labelFont":"Liberation Sans","labelFontSize":10,"labelColor":"#444444","titleFont":"DejaVu Sans","titleFontSize":11,"titleFontWeight":"normal","titleColor":"#555555","titleX":-55,"titleY":181,"titleAlign":"center","titleBaseline":"bottom","titleAngle":-90}},
"text":{"field":"label"}
}
}
],
"config":{"view":{"stroke":"#555555","strokeWidth":1.5},"font":"Liberation Sans"}
}
